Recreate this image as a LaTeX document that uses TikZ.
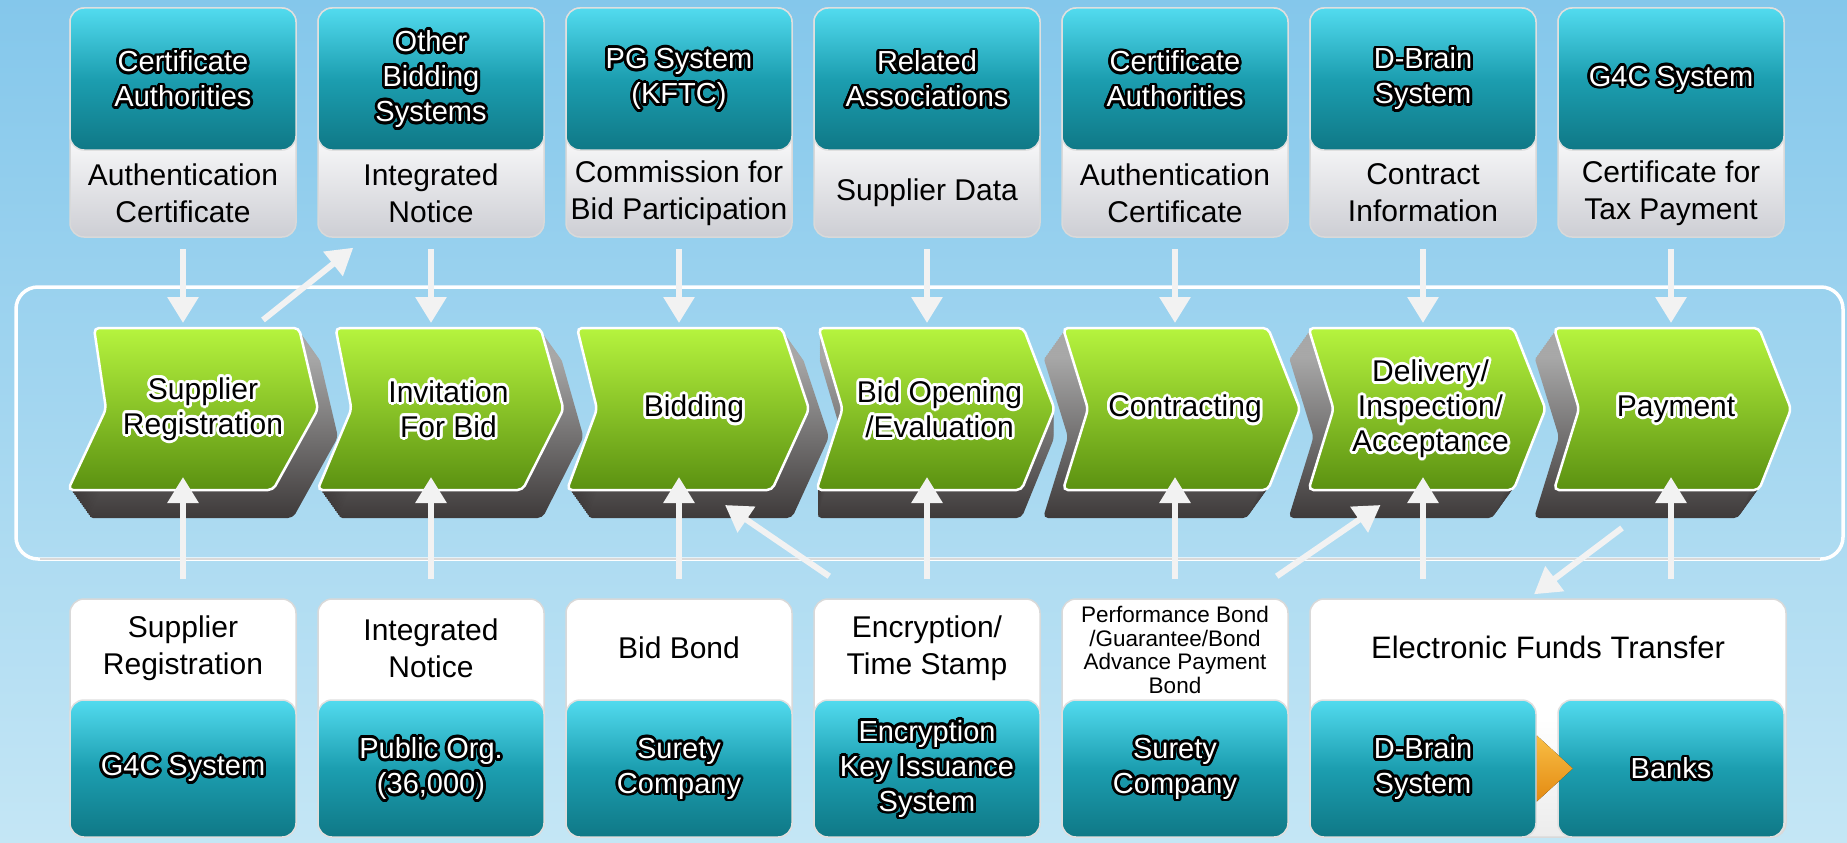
\documentclass[tikz,border=0pt]{standalone}
\usepackage{fontspec}
\setmainfont{Liberation Sans}
\usepackage{tikz}
\usetikzlibrary{arrows.meta}
\usetikzlibrary{calc}
\usetikzlibrary{positioning}

\definecolor{skytop}{HTML}{84C7EB}
\definecolor{skymid}{HTML}{B9E1F4}
\definecolor{skybot}{HTML}{C4E6F5}
\definecolor{tealtop}{HTML}{52DBEF}
\definecolor{tealmid}{HTML}{1C9EB0}
\definecolor{tealbot}{HTML}{0F7886}
\definecolor{greentop}{HTML}{B6F43E}
\definecolor{greenbot}{HTML}{5B9111}
\definecolor{sidetop}{HTML}{A8A8A8}
\definecolor{sidebot}{HTML}{3E3A3A}
\definecolor{boxgrey}{HTML}{CDCED4}
\definecolor{arrowcol}{HTML}{F2F2F2}
\definecolor{orangetop}{HTML}{F9BE45}
\definecolor{orangebot}{HTML}{E38A12}

% rimmed text: one copy per offset, then the text itself
\newcommand{\rimcopy}[3]{\makebox[0pt][l]{\hspace*{#1}\raisebox{#2}{#3}}}
\newcommand{\rimtext}[3]{{\color{#1}%
  \rimcopy{2.8pt}{0pt}{#3}\rimcopy{-2.8pt}{0pt}{#3}%
  \rimcopy{0pt}{2.8pt}{#3}\rimcopy{0pt}{-2.8pt}{#3}%
  \rimcopy{2pt}{2pt}{#3}\rimcopy{-2pt}{2pt}{#3}%
  \rimcopy{2pt}{-2pt}{#3}\rimcopy{-2pt}{-2pt}{#3}%
  \rimcopy{2.6pt}{1.1pt}{#3}\rimcopy{-2.6pt}{1.1pt}{#3}%
  \rimcopy{2.6pt}{-1.1pt}{#3}\rimcopy{-2.6pt}{-1.1pt}{#3}%
  \rimcopy{1.1pt}{2.6pt}{#3}\rimcopy{-1.1pt}{2.6pt}{#3}%
  \rimcopy{1.1pt}{-2.6pt}{#3}\rimcopy{-1.1pt}{-2.6pt}{#3}}%
  {\color{#2}#3}}
\newcommand{\wlab}[1]{\rimtext{black}{white}{#1}}
\newcommand{\blab}[1]{\rimtext{white}{black}{#1}}

\begin{document}
\begin{tikzpicture}[x=1pt,y=-1pt,
    flow/.style={draw=arrowcol, line width=6pt, -{Triangle[width=30pt,length=26pt]}},
    tealbox/.style={rectangle, rounded corners=14pt, top color=tealtop, bottom color=tealbot,
                    middle color=tealmid, draw=white!75!gray, line width=1.5pt,
                    minimum width=226pt, text=white, align=center,
                    font=\fontsize{29}{35}\selectfont, inner sep=0pt},
    infobox/.style={rectangle, rounded corners=14pt, top color=white, bottom color=boxgrey,
                    middle color=white, draw=white!70!gray, line width=1.5pt,
                    minimum width=226pt, inner sep=0pt},
    lab/.style={align=center, font=\fontsize{30}{37}\selectfont, text=black, inner sep=0pt},
    smalllab/.style={align=center, font=\fontsize{22.5}{23.5}\selectfont, text=black, inner sep=0pt},
    chevtext/.style={align=center, font=\fontsize{30}{35}\selectfont, minimum width=205pt,
                     minimum height=162pt, inner sep=0pt, outer sep=0pt},
    chevface/.style={top color=greentop, bottom color=greenbot, draw=white, line width=2.5pt,
                     rounded corners=5pt},
    chevside/.style={top color=sidetop, bottom color=sidebot, rounded corners=5pt}
  ]
  % sky
  \shade[top color=skytop, middle color=skymid, bottom color=skybot] (0,0) rectangle (1847,843);
  \useasboundingbox (0,0) rectangle (1847,843);

  % process frame
  \draw[white, line width=3.5pt, rounded corners=22pt] (16,287) rectangle (1843,559);
  \draw[white!70!gray, line width=2pt] (40,559) -- (1820,559);

  % process chevrons
  \foreach \i/\txt in {1/{\blab{Supplier}\\\blab{Registration}},
                       2/{\blab{Invitation}\\\blab{For Bid}},
                       3/{\blab{Bidding}},
                       4/{\blab{Bid Opening}\\\blab{/Evaluation}},
                       5/{\blab{Contracting}},
                       6/{\blab{Delivery/}\\\blab{Inspection/}\\\blab{Acceptance}},
                       7/{\blab{Payment}}}
  {
    \pgfmathsetmacro{\X}{203+245.5*(\i-1)}
    \pgfmathsetmacro{\s}{max(0,26-8*(\i-1))/2}
    \pgfmathsetmacro{\dx}{\i<4 ? 20 : (\i>4 ? -20 : 0)}
    \foreach \k in {1,...,14}
      \path[chevside, shift={(\dx*\k/14,2*\k)}]
        (\X-122+\s,328) -- (\X+83+\s,328) -- (\X+115,409) -- (\X+83-\s,490)
        -- (\X-122-\s,490) -- (\X-97,409) -- cycle;
    \path[chevface]
      (\X-122+\s,328) -- (\X+83+\s,328) -- (\X+115,409) -- (\X+83-\s,490)
      -- (\X-122-\s,490) -- (\X-97,409) -- cycle;
    \node[chevtext] (c\i) at (\X,409) {\txt};
  }

  % upper systems
  \foreach \i/\sys/\info in {1/{\wlab{Certificate}\\\wlab{Authorities}}/{Authentication\\Certificate},
                             2/{\wlab{Other}\\\wlab{Bidding}\\\wlab{Systems}}/{Integrated\\Notice},
                             3/{\wlab{PG System}\\\wlab{(KFTC)}}/{Commission for\\Bid Participation},
                             4/{\wlab{Related}\\\wlab{Associations}}/{Supplier Data},
                             5/{\wlab{Certificate}\\\wlab{Authorities}}/{Authentication\\Certificate},
                             6/{\wlab{D-Brain}\\\wlab{System}}/{Contract\\Information},
                             7/{\wlab{G4C System}}/{Certificate for\\Tax Payment}}
  {
    \pgfmathsetmacro{\cx}{183+248*(\i-1)}
    \node[infobox, minimum height=229pt] (tw\i) at (\cx,122.5) {};
    \node[tealbox, minimum height=142pt] (tt\i) at (\cx,79) {\sys};
    \node[lab] (tl\i) at (\cx,193) {\info};
    \draw[flow, shorten <=11pt, shorten >=5pt] (tw\i.south) -- (tw\i.south |- c\i.north);
  }

  % lower systems
  \foreach \i/\sys/\info in {1/{\wlab{G4C System}}/{Supplier\\Registration},
                             2/{\wlab{Public Org.}\\\wlab{(36,000)}}/{Integrated\\Notice},
                             3/{\wlab{Surety}\\\wlab{Company}}/{Bid Bond},
                             4/{\wlab{Encryption}\\\wlab{Key Issuance}\\\wlab{System}}/{Encryption/\\Time Stamp}}
  {
    \pgfmathsetmacro{\cx}{183+248*(\i-1)}
    \node[infobox, top color=white, bottom color=white, minimum height=238pt] (bw\i) at (\cx,718) {};
    \node[lab] (bl\i) at (\cx,648) {\info};
    \node[tealbox, minimum height=137pt] (bt\i) at (\cx,768.5) {\sys};
  }
  \node[infobox, top color=white, bottom color=white, minimum height=238pt] (bw5) at (1175,718) {};
  \node[smalllab] (bl5) at (1175,650) {Performance Bond\\/Guarantee/Bond\\Advance Payment\\Bond};
  \node[tealbox, minimum height=137pt] (bt5) at (1175,768.5) {\wlab{Surety}\\\wlab{Company}};

  \node[infobox, top color=white, bottom color=white!85!gray, middle color=white,
        minimum width=476pt, minimum height=238pt] (bw6) at (1548,718) {};
  \node[lab, font=\fontsize{31}{37}\selectfont] (bl6) at (1548,647) {Electronic Funds Transfer};
  \node[tealbox, minimum height=137pt] (bt6) at (1423,768.5) {\wlab{D-Brain}\\\wlab{System}};
  \node[tealbox, minimum height=137pt] (bt7) at (1671,768.5) {\wlab{Banks}};
  \fill[top color=orangetop, bottom color=orangebot]
    ([yshift=33pt]bt6.east) -- ([xshift=36pt]bt6.east) -- ([yshift=-33pt]bt6.east) -- cycle;

  \foreach \i in {1,...,7}
    \draw[flow, shorten <=19pt, shorten >=-13pt] (bt\i.north |- bw1.north) -- (bt\i.north |- c\i.south);

  % cross links
  \draw[flow] ([xshift=60pt,yshift=8pt]c1.north) -- ([xshift=36pt,yshift=-10pt]tw2.south west);
  \draw[flow] ([xshift=16pt,yshift=22pt]bw4.north west) -- ([xshift=31pt,yshift=-15pt]c3.south);
  \draw[flow] ([xshift=-12pt,yshift=22pt]bw5.north east) -- ([xshift=-50pt,yshift=-15pt]c6.south);
  \draw[flow] ([xshift=-54pt,yshift=-38pt]c7.south) -- ([xshift=-14pt,yshift=4pt]bw6.north);
\end{tikzpicture}
\end{document}
